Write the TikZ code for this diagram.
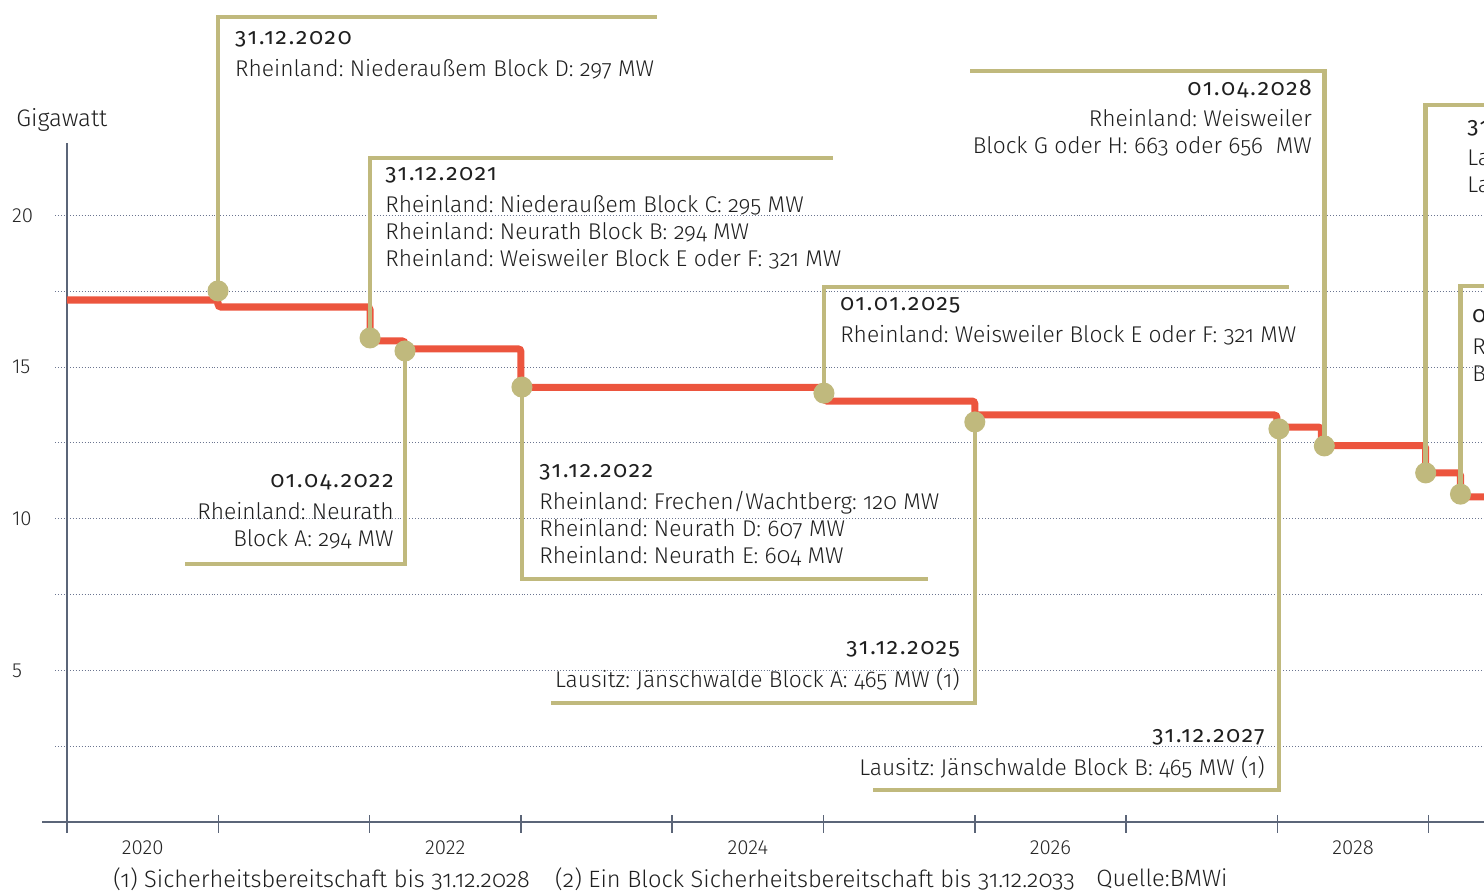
\documentclass[tikz,border=0pt]{standalone}
\usepackage{fontspec}
\setmainfont{Fira Sans}[UprightFont=* Light, Numbers=OldStyle]
\newfontfamily\datefont{Fira Sans}[Numbers=OldStyle, LetterSpace=8]
\newfontfamily\axisfont{Fira Sans}[UprightFont=* Light, Numbers=Lining]
\definecolor{kohle}{HTML}{EC553E}
\definecolor{gold}{HTML}{C0B97D}
\definecolor{raster}{HTML}{6B7590}
\definecolor{achse}{HTML}{5B6578}
\newcommand{\datum}[1]{{\datefont\fontsize{16.2}{19.2}\selectfont #1}}
\frenchspacing

\begin{document}
\begin{tikzpicture}[x=3.7825cm, y=0.75825cm,
  kurve/.style={kohle, line width=5pt, rounded corners=2pt},
  callout/.style={gold, line width=3.2pt},
  dot/.style={circle, fill=gold, inner sep=0pt, minimum size=15pt},
  lbl/.style={inner sep=0pt, font=\fontsize{16.2}{19.2}\selectfont\frenchspacing, text=black!88},
  axlbl/.style={inner sep=0pt, font=\axisfont\fontsize{14.5}{17}\selectfont, text=black!85},
  rasterlinie/.style={raster, line width=0.7pt, dash pattern=on 0.7pt off 1.4pt},
  achsenlinie/.style={achse, line width=1.1pt}]
  \useasboundingbox (-0.4428,-2.2420) rectangle (9.3655,27.1019);
  \clip (-0.4428,-2.2420) rectangle (9.3655,27.1019);

  \foreach \g in {2.5,5,...,20} \draw[rasterlinie] (-0.079,\g) -- (9.4,\g);
  \draw[achsenlinie] (-0.165,0) -- (9.4,0);
  \draw[achsenlinie] (0,-0.2) -- (0,22.39);
  \foreach \j in {0,...,9} \draw[achsenlinie] (\j,0.23) -- (\j,-0.36);
  \foreach \g in {5,10,15,20} \node[axlbl, anchor=west] (y\g) at (-0.365,\g) {\g};
  \foreach \j/\jahr in {0/2020,2/2022,4/2024,6/2026,8/2028}
    \node[axlbl] (x\jahr) at (\j+0.5,-0.857) {\jahr};
  \node[lbl, font=\axisfont\fontsize{17}{20}\selectfont, anchor=west] (gw) at (-0.337,23.15) {Gigawatt};

  \draw[kurve] (0,17.21) -- (0.998,17.21) -- (0.998,16.98) -- (2.003,16.98) -- (2.003,15.86)
    -- (2.234,15.86) -- (2.234,15.60) -- (3.0,15.60) -- (3.0,14.33) -- (5.003,14.33)
    -- (5.003,13.88) -- (6.0,13.88) -- (6.0,13.42) -- (7.997,13.42) -- (7.997,13.02)
    -- (8.29,13.02) -- (8.29,12.41) -- (8.98,12.41) -- (8.98,11.51) -- (9.21,11.51)
    -- (9.21,10.72) -- (9.5,10.72);

  \foreach \px/\py [count=\i] in {0.998/17.51, 2.003/15.96, 2.234/15.53, 3.007/14.34, 5.003/14.14,
      6.0/13.19, 8.01/12.96, 8.31/12.40, 8.98/11.51, 9.21/10.81}
    \coordinate (p\i) at (\px,\py);
  \coordinate (e1) at (3.900,26.54);
  \coordinate (e2) at (5.063,21.89);
  \coordinate (e3) at (0.780,8.506);
  \coordinate (e4) at (5.691,8.012);
  \coordinate (e5) at (8.077,17.64);
  \coordinate (e6) at (3.199,3.924);
  \coordinate (e7) at (5.327,1.055);
  \coordinate (e8) at (5.968,24.76);
  \coordinate (e9) at (9.5,23.64);
  \coordinate (e10) at (9.5,17.67);
  \foreach \i in {1,...,10} \draw[callout] (p\i) |- (e\i);
  \foreach \i in {1,...,10} \node[dot] (d\i) at (p\i) {};

  \node[lbl, anchor=north west, align=left] (t1) at (1.110,26.28)
    {\strut\datum{31.12.2020}\\[3.5pt] Rheinland: Niederaußem Block D: 297 MW};
  \node[lbl, anchor=north west, align=left] (t2) at (2.102,21.79)
    {\strut\datum{31.12.2021}\\[3.5pt] Rheinland: Niederaußem Block C: 295 MW\\
     Rheinland: Neurath Block B: 294 MW\\ Rheinland: Weisweiler Block E oder F: 321 MW};
  \node[lbl, anchor=north east, align=right] (t3) at (2.161,11.67)
    {\strut\datum{01.04.2022}\\[3.5pt] Rheinland: Neurath\\ Block A: 294 MW};
  \node[lbl, anchor=north west, align=left] (t4) at (3.120,12.00)
    {\strut\datum{31.12.2022}\\[3.5pt] Rheinland: Frechen/Wachtberg: 120 MW\\
     Rheinland: Neurath D: 607 MW\\ Rheinland: Neurath E: 604 MW};
  \node[lbl, anchor=north west, align=left] (t5) at (5.109,17.51)
    {\strut\datum{01.01.2025}\\[3.5pt] Rheinland: Weisweiler Block E oder F: 321 MW};
  \node[lbl, anchor=north east, align=right] (t6) at (5.902,6.166)
    {\strut\datum{31.12.2025}\\[3.5pt] Lausitz: Jänschwalde Block A: 465 MW (1)};
  \node[lbl, anchor=north east, align=right] (t7) at (7.918,3.264)
    {\strut\datum{31.12.2027}\\[3.5pt] Lausitz: Jänschwalde Block B: 465 MW (1)};
  \node[lbl, anchor=north east, align=right] (t8) at (8.229,24.60)
    {\strut\datum{01.04.2028}\\[3.5pt] Rheinland: Weisweiler\\ Block G oder H: 663 oder 656\ \ MW};
  \node[lbl, anchor=north west, align=left] (t9) at (9.253,23.34)
    {\strut\datum{31.12.2028}\\[3.5pt] Lausitz: Jänschwalde Block C: 500 MW\\ Lausitz: Jänschwalde Block D: 500 MW};
  \node[lbl, anchor=north west, align=left] (t10) at (9.286,17.11)
    {\strut\datum{01.04.2029}\\[3.5pt] Rheinland: Weisweiler\\ Block G oder H: 663 oder 656 MW (2)};

  \node[lbl, font=\fontsize{16.8}{20}\selectfont, anchor=west] (f1) at (0.304,-1.879) {(1) Sicherheitsbereitschaft bis 31.12.2028};
  \node[lbl, font=\fontsize{16.8}{20}\selectfont, anchor=west] (f2) at (3.225,-1.879) {(2) Ein Block Sicherheitsbereitschaft bis 31.12.2033};
  \node[lbl, font=\fontsize{16.8}{20}\selectfont, anchor=west] (f3) at (6.801,-1.879) {Quelle:BMWi};
\end{tikzpicture}
\end{document}
